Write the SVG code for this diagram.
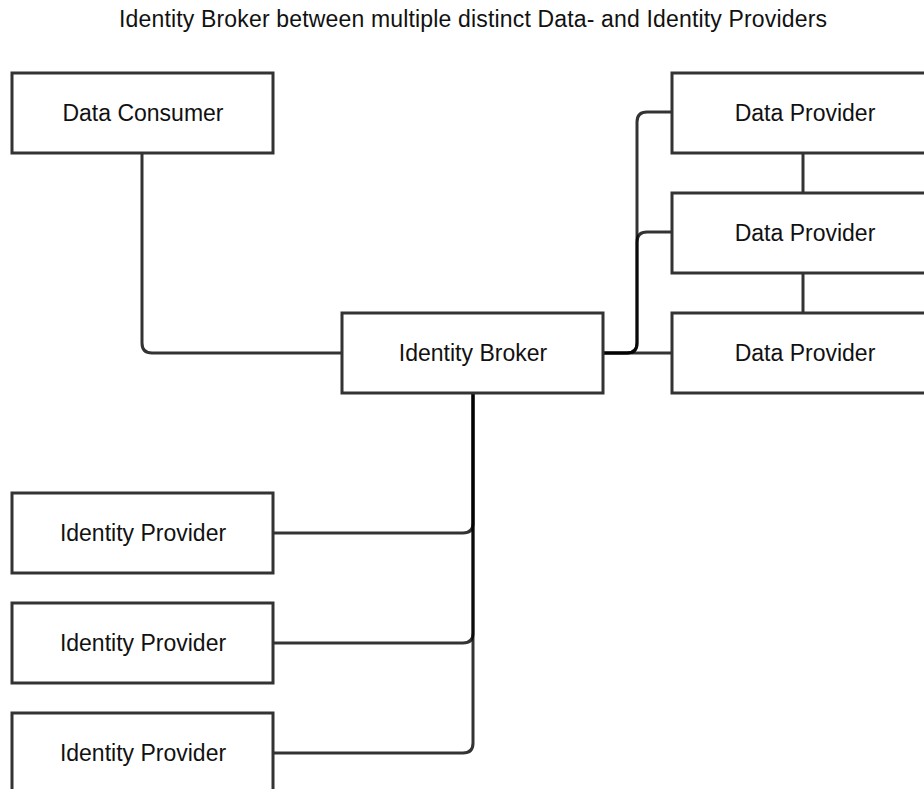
<svg xmlns="http://www.w3.org/2000/svg" width="924" height="789" viewBox="0 0 924 789">
<style>
.box{fill:#fff;stroke:#333;stroke-width:3}
.lbl{font-family:"Liberation Sans",Arial,sans-serif;font-size:23px;fill:#111;text-anchor:middle}
.edge{fill:none;stroke:#000;stroke-opacity:0.8;stroke-width:3}
</style>
<rect width="924" height="789" fill="#fff"/>
<text class="lbl" x="473" y="27" textLength="708" lengthAdjust="spacing">Identity Broker between multiple distinct Data- and Identity Providers</text>
<g id="connectors">
<path class="edge" d="M142,153 V343 Q142,353 152,353 H342"/>
<path class="edge" d="M603,353 H672"/>
<path class="edge" d="M603,353 H627 Q637,353 637,343 V122 Q637,112 647,112 H672"/>
<path class="edge" d="M603,353 H627 Q637,353 637,343 V242 Q637,232 647,232 H672"/>
<path class="edge" d="M803,153 V193"/>
<path class="edge" d="M803,273 V313"/>
<path class="edge" d="M473,393 V523 Q473,533 463,533 H273"/>
<path class="edge" d="M473,393 V633 Q473,643 463,643 H273"/>
<path class="edge" d="M473,393 V743 Q473,753 463,753 H273"/>
</g>
<g id="data-consumer"><rect class="box" x="12" y="73" width="261" height="80"/><text class="lbl" x="143" y="121">Data Consumer</text></g>
<g id="identity-broker"><rect class="box" x="342" y="313" width="261" height="80"/><text class="lbl" x="473" y="361">Identity Broker</text></g>
<g id="data-provider-1"><rect class="box" x="672" y="73" width="262" height="80"/><text class="lbl" x="805" y="121">Data Provider</text></g>
<g id="data-provider-2"><rect class="box" x="672" y="193" width="262" height="80"/><text class="lbl" x="805" y="241">Data Provider</text></g>
<g id="data-provider-3"><rect class="box" x="672" y="313" width="262" height="80"/><text class="lbl" x="805" y="361">Data Provider</text></g>
<g id="identity-provider-1"><rect class="box" x="12" y="493" width="261" height="80"/><text class="lbl" x="143" y="541">Identity Provider</text></g>
<g id="identity-provider-2"><rect class="box" x="12" y="603" width="261" height="80"/><text class="lbl" x="143" y="651">Identity Provider</text></g>
<g id="identity-provider-3"><rect class="box" x="12" y="713" width="261" height="80"/><text class="lbl" x="143" y="761">Identity Provider</text></g>
</svg>
